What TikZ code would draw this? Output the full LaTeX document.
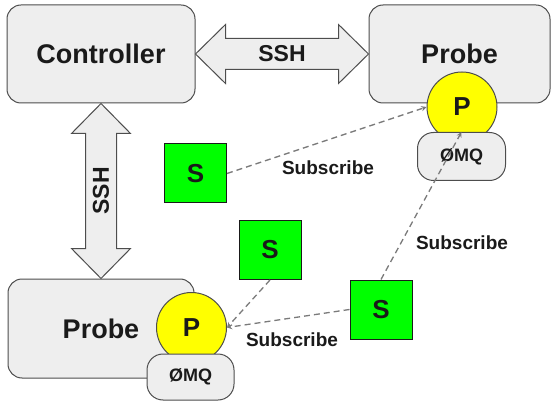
\documentclass[tikz,border=0pt]{standalone}
\usepackage{fontspec}
\setmainfont{Liberation Sans}
\usetikzlibrary{calc}
\definecolor{boxgray}{HTML}{EEEEEE}
\definecolor{edgegray}{HTML}{4D4D4D}
\definecolor{subgreen}{HTML}{00FF00}
\definecolor{pubyellow}{HTML}{FFFF00}
\definecolor{dashgray}{HTML}{7A7A7A}
\definecolor{inkblack}{HTML}{1A1A1A}
\tikzset{
	hostbox/.style={draw=edgegray,fill=boxgray,line width=1pt,rounded corners=14pt,text=inkblack,font=\fontsize{27}{30}\selectfont\bfseries},
	pubcircle/.style={circle,draw=edgegray,fill=pubyellow,line width=1pt,minimum size=70pt,inner sep=0pt,text=inkblack,font=\fontsize{26}{30}\selectfont\bfseries},
	zmqbox/.style={draw=edgegray,fill=boxgray,line width=1pt,rounded corners=16pt,minimum width=88pt,minimum height=48pt,text=inkblack,font=\fontsize{18}{20}\selectfont\bfseries},
	subbox/.style={draw=inkblack,fill=subgreen,line width=1pt,minimum width=62pt,minimum height=59pt,inner sep=0pt,text=inkblack,font=\fontsize{26}{30}\selectfont\bfseries},
	sshpath/.style={draw=edgegray,fill=boxgray,line width=1pt,line join=miter},
	sshlabel/.style={text=inkblack,font=\fontsize{23}{26}\selectfont\bfseries},
	subline/.style={->,draw=dashgray,line width=1.3pt,dash pattern=on 6pt off 4pt},
	sublabel/.style={text=inkblack,font=\fontsize{19}{22}\selectfont\bfseries}
}
\begin{document}
\begin{tikzpicture}[x=1pt,y=-1pt,>=stealth]
	\useasboundingbox (0,0) rectangle (554,406);
	% hosts
	\node[hostbox,minimum width=188pt,minimum height=98pt] (ctrl) at (101,54) {Controller};
	\node[hostbox,minimum width=181pt,minimum height=98pt] (probeA) at (459.5,54) {Probe};
	\node[hostbox,minimum width=186pt,minimum height=99pt] (probeB) at (101,328.5) {Probe};
	% publishers with their sockets
	\node[pubcircle] (pA) at (462,107) {P};
	\node[zmqbox] (zA) at (461.5,156.5) {ØMQ};
	\node[pubcircle] (pB) at (191.5,327.5) {P};
	\node[zmqbox,minimum width=87pt,minimum height=46pt] (zB) at (190.5,377) {ØMQ};
	% subscribers
	\node[subbox] (s1) at (195.5,173.5) {S};
	\node[subbox] (s2) at (270,250) {S};
	\node[subbox] (s3) at (381,309.5) {S};
	% ssh links
	\draw[sshpath] (ctrl.east)--++(30,-29.5)--++(0,14)--($(probeA.west)+(-30,-15.5)$)--++(0,-14)--(probeA.west)--++(-30,29.5)--++(0,-14)--($(ctrl.east)+(30,15.5)$)--++(0,14)--cycle;
	\path (ctrl.east)--(probeA.west)node[midway,sshlabel,name=sshH]{SSH};
	\draw[sshpath] (ctrl.south)--++(29.5,30)--++(-14,0)--($(probeB.north)+(15.5,-30)$)--++(14,0)--(probeB.north)--++(-29.5,-30)--++(14,0)--($(ctrl.south)+(-15.5,30)$)--++(-14,0)--cycle;
	\path (ctrl.south)--(probeB.north)node[midway,sshlabel,rotate=90,name=sshV]{SSH};
	% subscriptions
	\draw[subline] (s1.east)--(pA.west);
	\draw[subline] (s2.south)--(pB.east);
	\draw[subline] (s3.west)--(pB.east);
	\draw[subline] (s3.north)--(zA.north);
	\node[sublabel] (subA) at (328,168) {Subscribe};
	\node[sublabel] (subB) at (462,243) {Subscribe};
	\node[sublabel] (subC) at (292,340) {Subscribe};
\end{tikzpicture}
\end{document}
